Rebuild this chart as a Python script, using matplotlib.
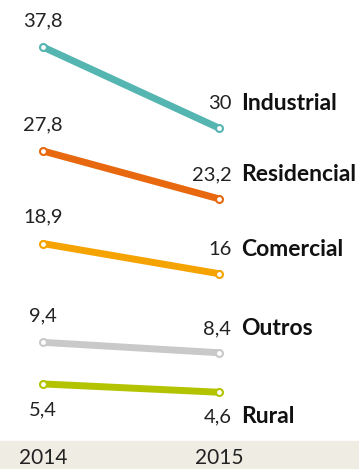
import matplotlib.pyplot as plt

# Data
years = [2014, 2015]
names = ["Industrial", "Residencial", "Comercial", "Outros", "Rural"]
v2014 = [37.8, 27.8, 18.9, 9.4, 5.4]
v2015 = [30.0, 23.2, 16.0, 8.4, 4.6]
lab2014 = ["37,8", "27,8", "18,9", "9,4", "5,4"]
lab2015 = ["30", "23,2", "16", "8,4", "4,6"]
colors = ["#55b5b1", "#e8680f", "#f5a300", "#c9c9c9", "#b3c300"]
# label above (+1) or below (-1) the line
side = [1, 1, 1, 1, -1]

plt.rcParams['font.family'] = ['Lato', 'DejaVu Sans']

fig = plt.figure(figsize=(3.59, 4.69), dpi=100)
ax = fig.add_axes([0, 0, 1, 1])
ax.set_xlim(2014 - 43 / 176, 2015 + 140 / 176)
ax.set_ylim(-2.78, 42.32)
ax.axis("off")

# beige band for the year axis
ax.axhspan(-2.78, -0.1, color="#efece4", zorder=0)

for i in range(len(names)):
    ax.plot(years, [v2014[i], v2015[i]], color=colors[i], lw=5,
            solid_capstyle="round", zorder=2)
    ax.plot(years, [v2014[i], v2015[i]], "o", ms=5, mfc="white",
            mec=colors[i], mew=1.5, zorder=3)
    ax.annotate(lab2014[i], (2014, v2014[i]), xytext=(0, 19 * side[i]),
                textcoords="offset points", ha="center", va="center",
                fontsize=14.5, color="#222222")
    ax.annotate(lab2015[i], (2015, v2015[i]), xytext=(9, 17.5 * side[i]),
                textcoords="offset points", ha="right", va="center",
                fontsize=14.5, color="#222222")
    ax.annotate(names[i], (2015, v2015[i]), xytext=(16, 17.5 * side[i]),
                textcoords="offset points", ha="left", va="center",
                fontsize=16.5, color="#111111", fontweight="bold")

for y in years:
    ax.text(y, -1.7, str(y), ha="center", va="center", fontsize=15,
            color="#222222")

fig.savefig("out.png", dpi=100)
